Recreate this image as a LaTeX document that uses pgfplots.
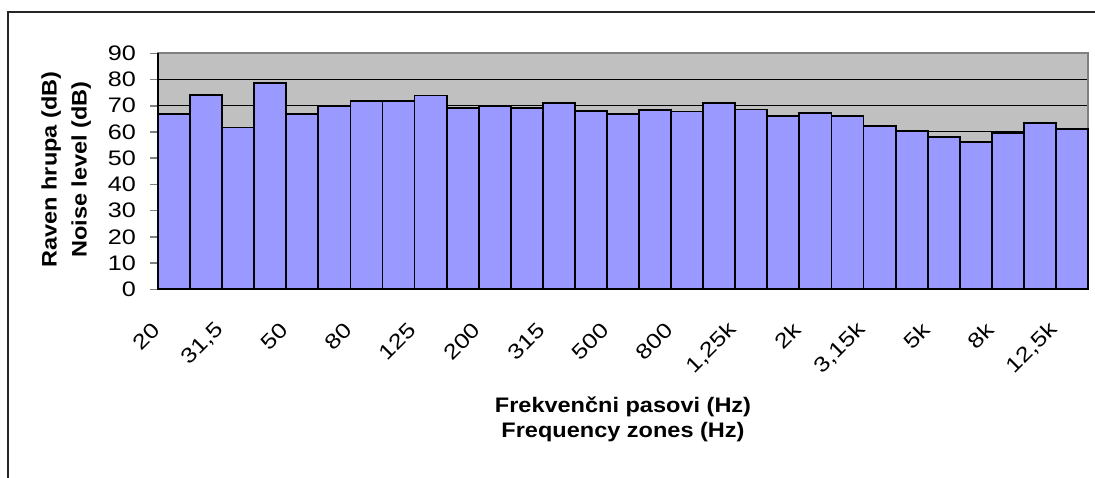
\documentclass[border=0pt]{standalone}
\usepackage{pgfplots}
\pgfplotsset{compat=1.18}
\usepackage{fontspec}
\setmainfont{Liberation Sans}
\newfontfamily\tickfont[FakeStretch=1.2]{Liberation Sans}
\newfontfamily\titlefont[FakeStretch=1.12]{Liberation Sans}
\definecolor{barfill}{HTML}{9999FF}
\definecolor{plotbg}{HTML}{C0C0C0}
\definecolor{tickgray}{HTML}{808080}
\begin{document}
\begin{tikzpicture}[x=1pt,y=1pt]
\path[use as bounding box] (0,0) rectangle (547.5,238.5);
\draw[line width=1pt, black!85] (3.75,-2) -- (3.75,232.5) -- (549,232.5);
\begin{axis}[
  at={(79pt,93.85pt)}, anchor=south west,
  scale only axis, width=465pt, height=118pt,
  xmin=0.5, xmax=29.5, ymin=0, ymax=90,
  axis background/.style={fill=plotbg},
  axis line style={draw=tickgray, line width=1pt},
  ytick={0,10,...,90},
  ytick pos=left, xtick pos=bottom,
  ymajorgrids, major grid style={black, line width=0.5pt},
  xtick={1,3,...,29},
  xticklabels={20,{31,5},50,80,125,200,315,500,800,{1,25k},2k,{3,15k},5k,8k,{12,5k}},
  minor xtick={0.5,1.5,...,29.5},
  tick align=outside,
  major tick length=4pt, minor tick length=4.5pt,
  tick style={tickgray, line width=0.8pt},
  xtick style={draw=none},
  minor tick style={tickgray, line width=0.8pt},
  xminorgrids=false,
  /pgf/number format/assume math mode=true,
  tick label style={font=\tickfont\fontsize{10.5}{12.6}\selectfont},
  yticklabel style={anchor=east, xshift=-3.5pt},
  xticklabel style={xshift=-6.5pt, yshift=-12pt, rotate=45, anchor=east},
  clip=false,
]
\addplot[ybar, bar width=1, fill=barfill, draw=black, line width=0.9pt] coordinates {
(1,67.0) (2,74.0) (3,61.7) (4,78.6) (5,67.0) (6,70.0) (7,71.8) (8,71.7) (9,73.9) (10,69.2)
(11,70.0) (12,69.2) (13,71.1) (14,67.9) (15,67.0) (16,68.5) (17,67.8) (18,71.1) (19,68.6) (20,66.2)
(21,67.2) (22,66.2) (23,62.4) (24,60.4) (25,58.0) (26,56.3) (27,59.5) (28,63.3) (29,61.0)
};
\draw[black, line width=0.9pt] (rel axis cs:0,1) -- (rel axis cs:0,0) -- (rel axis cs:1,0);
\end{axis}
\node[rotate=90, anchor=base, font=\titlefont\bfseries\fontsize{10.5}{12.6}\selectfont] at (28.3,153.75) {Raven hrupa (dB)};
\node[rotate=90, anchor=base, font=\titlefont\bfseries\fontsize{10.5}{12.6}\selectfont] at (43.3,153.75) {Noise level (dB)};
\node[anchor=base, font=\titlefont\bfseries\fontsize{10.5}{12.6}\selectfont] at (311.5,32.5) {Frekvenčni pasovi (Hz)};
\node[anchor=base, font=\titlefont\bfseries\fontsize{10.5}{12.6}\selectfont] at (311.5,20) {Frequency zones (Hz)};
\end{tikzpicture}
\end{document}
